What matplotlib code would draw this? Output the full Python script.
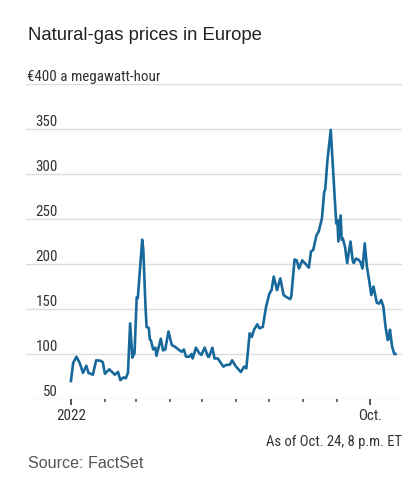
import matplotlib
matplotlib.use('Agg')
import matplotlib.pyplot as plt
import pandas as pd

# data (euros per megawatt-hour)
dates = ['2022-01-01', '2022-01-03', '2022-01-06', '2022-01-09', '2022-01-12', '2022-01-15',
         '2022-01-17', '2022-01-21', '2022-01-24', '2022-01-28', '2022-01-30', '2022-02-01',
         '2022-02-05', '2022-02-10', '2022-02-13', '2022-02-15', '2022-02-18', '2022-02-20',
         '2022-02-22', '2022-02-24', '2022-02-26', '2022-02-28', '2022-03-02', '2022-03-03',
         '2022-03-07', '2022-03-08', '2022-03-10', '2022-03-11', '2022-03-13', '2022-03-14',
         '2022-03-15', '2022-03-17', '2022-03-19', '2022-03-20', '2022-03-24', '2022-03-26',
         '2022-03-28', '2022-03-31', '2022-04-03', '2022-04-06', '2022-04-09', '2022-04-12',
         '2022-04-14', '2022-04-16', '2022-04-19', '2022-04-21', '2022-04-22', '2022-04-25',
         '2022-04-28', '2022-04-30', '2022-05-03', '2022-05-06', '2022-05-07', '2022-05-10',
         '2022-05-12', '2022-05-15', '2022-05-20', '2022-05-23', '2022-05-26', '2022-05-28',
         '2022-05-31', '2022-06-02', '2022-06-05', '2022-06-08', '2022-06-10', '2022-06-13',
         '2022-06-15', '2022-06-17', '2022-06-20', '2022-06-22', '2022-06-25', '2022-06-28',
         '2022-07-01', '2022-07-03', '2022-07-05', '2022-07-08', '2022-07-11', '2022-07-14',
         '2022-07-17', '2022-07-20', '2022-07-21', '2022-07-24', '2022-07-26', '2022-07-28',
         '2022-07-31', '2022-08-02', '2022-08-06', '2022-08-08', '2022-08-10', '2022-08-13',
         '2022-08-15', '2022-08-18', '2022-08-20', '2022-08-21', '2022-08-23', '2022-08-26',
         '2022-08-28', '2022-08-31', '2022-09-01', '2022-09-02', '2022-09-04', '2022-09-05',
         '2022-09-06', '2022-09-08', '2022-09-10', '2022-09-13', '2022-09-15', '2022-09-16',
         '2022-09-18', '2022-09-20', '2022-09-22', '2022-09-24', '2022-09-26', '2022-09-28',
         '2022-09-30', '2022-10-02', '2022-10-04', '2022-10-07', '2022-10-09', '2022-10-11',
         '2022-10-13', '2022-10-15', '2022-10-17', '2022-10-18', '2022-10-19', '2022-10-21',
         '2022-10-23', '2022-10-24']
prices = [70, 90, 97, 90, 79, 87,
          79, 77, 93, 92.5, 91, 78,
          83, 77, 80, 71, 74, 73,
          79, 134, 96, 101, 163, 162,
          227, 216, 153, 130, 129, 116,
          115, 105, 107, 98, 117, 104,
          105, 125, 110, 108, 105, 102.5,
          105, 97, 97, 100, 95, 107,
          101, 99, 107, 97, 97, 107,
          95, 95, 86, 88, 88, 93,
          87, 84, 80, 86, 84, 123,
          119, 127, 133, 128.5, 130, 152.5,
          167, 171, 186, 171, 184, 165.5,
          163, 161, 164, 205, 204, 195,
          204, 201.5, 196, 214, 215.5, 232,
          236, 251, 280, 283, 315.5, 349,
          308, 245, 249, 225, 254, 227,
          228.5, 219, 201, 225, 204, 201,
          206, 205, 202.5, 195, 223, 197,
          182, 165.5, 175, 157, 156, 160,
          152.5, 130, 115.5, 117, 127, 108,
          100, 100]

y_ticks = [50, 100, 150, 200, 250, 300, 350]
tick_months = pd.date_range('2022-01-01', '2022-10-01', freq='MS')

narrow = ['Roboto Condensed', 'Lato', 'DejaVu Sans']
plain = ['Liberation Sans', 'DejaVu Sans']
text_col = '#333333'
fs = 10.8

fig = plt.figure(figsize=(4.19, 4.93), dpi=100)
ax = fig.add_axes([26 / 419, 94 / 493, 376 / 419, 315 / 493])

x = pd.to_datetime(dates)
ax.plot(x, prices, color='#17699b', linewidth=1.9, solid_joinstyle='round', zorder=3)

ax.set_ylim(50, 400)
ax.set_xlim(pd.Timestamp('2021-11-21'), pd.Timestamp('2022-10-30'))

# gridlines incl. top one under the unit label
for v in y_ticks + [400]:
    ax.axhline(v, color='#dddddd', linewidth=1, zorder=1)

for v in y_ticks:
    ax.text(0.085, v, str(v), transform=ax.get_yaxis_transform(), ha='right', va='bottom',
            fontsize=fs, color=text_col, family=narrow)
ax.text(0.003, 400, '€400 a megawatt-hour', transform=ax.get_yaxis_transform(),
        ha='left', va='bottom', fontsize=fs, color=text_col, family=narrow)

for s in ax.spines.values():
    s.set_visible(False)
ax.set_yticks([])

ax.set_xticks([tick_months[0], tick_months[-1]])
ax.set_xticklabels(['2022', 'Oct.'], fontsize=fs, color=text_col, family=narrow)
ax.set_xticks(tick_months[1:-1], minor=True)
ax.tick_params(axis='x', which='major', length=4, width=1.2, color='#333333', pad=3)
ax.tick_params(axis='x', which='minor', length=2.5, width=1.2, color='#555555')

fig.text(28 / 419, 1 - 36 / 493, 'Natural-gas prices in Europe', ha='left', va='center',
         fontsize=13.3, color='#222222', family=plain)
fig.text(402 / 419, 1 - 442 / 493, 'As of Oct. 24, 8 p.m. ET', ha='right', va='center',
         fontsize=10.5, color=text_col, family=narrow)
fig.text(28 / 419, 1 - 463 / 493, 'Source: FactSet', ha='left', va='center',
         fontsize=11.6, color='#555555', family=plain)

fig.savefig('out.png', dpi=100)
